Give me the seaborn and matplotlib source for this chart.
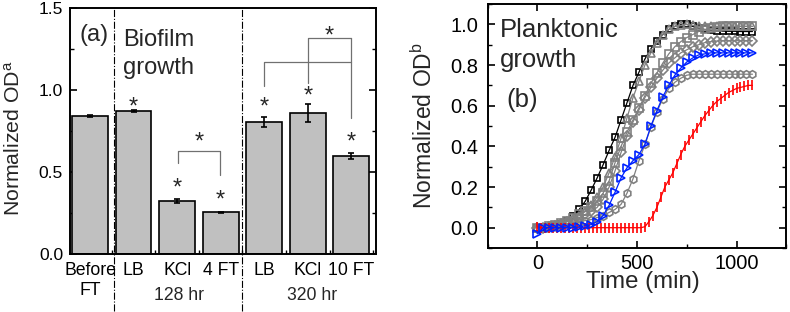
import matplotlib
matplotlib.use("Agg")
import matplotlib.pyplot as plt
import matplotlib.transforms as mtransforms
from matplotlib.ticker import MultipleLocator
import seaborn as sns

# ---------------- data: panel (a) biofilm growth ----------------
bar_keys = ["Before FT", "LB 128", "KCl 128", "4 FT", "LB 320", "KCl 320", "10 FT"]
bar_labels = ["Before\nFT", "LB", "KCl", "4 FT", "LB", "KCl", "10 FT"]
bar_od = [0.840, 0.874, 0.323, 0.254, 0.805, 0.858, 0.597]
bar_err = [0.006, 0.006, 0.015, 0.005, 0.032, 0.055, 0.020]
star_od = [None, 0.94, 0.447, 0.374, 0.94, 1.005, 0.726]
group_labels = ["128 hr", "320 hr"]

# ---------------- data: panel (b) planktonic growth ----------------
time_30 = [0, 30, 60, 90, 120, 150, 180, 210, 240, 270, 300, 330, 360, 390,
           420, 450, 480, 510, 540, 570, 600, 630, 660, 690, 720, 750, 780,
           810, 840, 870, 900, 930, 960, 990, 1020, 1050, 1080]
od_black = [0.0, 0.0, 0.005, 0.01, 0.02, 0.035, 0.06, 0.09, 0.13, 0.185, 0.245,
            0.31, 0.38, 0.445, 0.53, 0.615, 0.70, 0.765, 0.83, 0.88, 0.92, 0.95,
            0.975, 0.99, 1.0, 1.0, 0.99, 0.98, 0.975, 0.97, 0.968, 0.967, 0.966,
            0.966, 0.965, 0.965, 0.965]
od_triangle = [0.0, 0.0, 0.005, 0.01, 0.02, 0.03, 0.045, 0.06, 0.08, 0.11, 0.15,
               0.20, 0.27, 0.35, 0.44, 0.54, 0.64, 0.72, 0.80, 0.86, 0.91, 0.95,
               0.975, 0.99, 0.995, 1.0, 0.995, 0.99, 0.99, 0.99, 0.99, 0.99,
               0.99, 0.99, 0.99, 0.99, 0.99]
od_square = [0.0, 0.0, 0.01, 0.015, 0.025, 0.035, 0.05, 0.065, 0.08, 0.10, 0.13,
             0.17, 0.23, 0.32, 0.40, 0.47, 0.53, 0.59, 0.65, 0.71, 0.76, 0.81,
             0.855, 0.89, 0.915, 0.935, 0.95, 0.965, 0.975, 0.98, 0.985, 0.99,
             0.99, 0.99, 0.99, 0.99, 0.99]
od_diamond = [0.0, 0.0, 0.005, 0.01, 0.02, 0.03, 0.04, 0.05, 0.065, 0.08, 0.10,
              0.14, 0.20, 0.28, 0.37, 0.45, 0.52, 0.58, 0.64, 0.69, 0.735, 0.775,
              0.81, 0.835, 0.86, 0.875, 0.89, 0.90, 0.91, 0.915, 0.918, 0.92,
              0.92, 0.92, 0.92, 0.92, 0.92]
od_hexagon = [0.0, 0.0, 0.005, 0.01, 0.015, 0.02, 0.025, 0.03, 0.035, 0.04, 0.05,
              0.06, 0.075, 0.09, 0.115, 0.17, 0.24, 0.33, 0.41, 0.495, 0.57,
              0.635, 0.685, 0.715, 0.735, 0.75, 0.755, 0.755, 0.755, 0.755,
              0.755, 0.755, 0.755, 0.755, 0.755, 0.755, 0.755]
od_blue = [-0.03, 0.0, 0.0, 0.0, 0.0, 0.0, 0.0, 0.005, 0.01, 0.015, 0.03, 0.06,
           0.11, 0.175, 0.245, 0.295, 0.33, 0.36, 0.41, 0.50, 0.575, 0.645, 0.70,
           0.75, 0.785, 0.815, 0.835, 0.85, 0.855, 0.86, 0.86, 0.86, 0.86, 0.86,
           0.86, 0.86, 0.86]
time_20 = [0, 20, 40, 60, 80, 100, 120, 140, 160, 180, 200, 220, 240, 260, 280,
           300, 320, 340, 360, 380, 400, 420, 440, 460, 480, 500, 520, 540, 560,
           580, 600, 620, 640, 660, 680, 700, 720, 740, 760, 780, 800, 820, 840,
           860, 880, 900, 920, 940, 960, 980, 1000, 1020, 1040, 1060, 1080]
od_red = [0.005, 0.0, 0.0, 0.0, 0.0, 0.0, 0.0, 0.0, 0.0, 0.0, 0.0, 0.0, 0.0,
          0.0, 0.0, 0.0, 0.0, 0.0, 0.0, 0.0, 0.0, 0.0, 0.0, 0.0, 0.0, 0.0, 0.0,
          0.005, 0.03, 0.06, 0.10, 0.15, 0.20, 0.235, 0.27, 0.315, 0.36, 0.40,
          0.43, 0.46, 0.49, 0.52, 0.55, 0.575, 0.60, 0.62, 0.635, 0.65, 0.665,
          0.675, 0.685, 0.69, 0.695, 0.70, 0.70]

# ---------------- style ----------------
sns.set_theme(style="ticks")
plt.rcParams.update({
    "font.family": ["Liberation Sans", "DejaVu Sans"],
    "mathtext.fontset": "custom",
    "mathtext.rm": "Liberation Sans",
    "mathtext.it": "Liberation Sans:italic",
    "axes.linewidth": 1.4,
    "axes.edgecolor": "black",
    "xtick.color": "black",
    "ytick.color": "black",
    "xtick.major.width": 1.2,
    "ytick.major.width": 1.2,
    "xtick.minor.width": 1.0,
    "ytick.minor.width": 1.0,
})

GREY = "#808080"
BAR_GREY = "#c0c0c0"

fig = plt.figure(figsize=(7.9, 3.12), dpi=100)
axa = fig.add_axes([0.0886, 0.186, 0.387, 0.788])
axb = fig.add_axes([0.6173, 0.205, 0.378, 0.782])


def star(ax, x, y, fs=17):
    # place an asterisk so that its visual centre sits at (x, y)
    off = mtransforms.ScaledTranslation(0, -0.58 * fs / 72, fig.dpi_scale_trans)
    ax.text(x, y, "*", fontsize=fs, ha="center", va="baseline",
            transform=ax.transData + off)


# ---------------- panel (a) ----------------
sns.barplot(x=bar_keys, y=bar_od, order=bar_keys, color=BAR_GREY,
            saturation=1, edgecolor="black", linewidth=1.2, width=0.82, ax=axa)
xpos = list(range(len(bar_keys)))
axa.errorbar(xpos, bar_od, yerr=bar_err, fmt="none", ecolor="black",
             elinewidth=1.2, capsize=2.5, capthick=1.2, zorder=5)
for x, s in zip(xpos, star_od):
    if s is not None:
        star(axa, x, s)

# significance brackets
bk = dict(color="#707070", lw=0.9)
axa.plot([2.02, 2.02, 2.98, 2.98], [0.556, 0.63, 0.63, 0.48], **bk)
star(axa, 2.5, 0.726)
axa.plot([4.0, 4.0, 6.0], [1.025, 1.172, 1.172], **bk)
axa.plot([6.0, 6.0], [0.83, 1.318], **bk)
axa.plot([5.0, 5.0, 6.0], [1.044, 1.318, 1.318], **bk)
star(axa, 5.5, 1.375)

# group separators, running below the axis
for xv in [0.54, 3.5]:
    axa.axvline(xv, ymin=-0.23, ymax=1, color="black", lw=0.8,
                linestyle="-.", clip_on=False)

axa.set_xlim(-0.46, 6.56)
axa.set_ylim(0, 1.5)
axa.set_xticks(xpos)
axa.set_xticklabels(bar_labels, fontsize=12.7)
axa.xaxis.set_minor_locator(MultipleLocator(0.5))
axa.yaxis.set_major_locator(MultipleLocator(0.5))
axa.yaxis.set_minor_locator(MultipleLocator(0.25))
axa.tick_params(which="both", direction="in", left=True, right=True,
                top=False, bottom=True)
axa.tick_params(which="major", length=5)
axa.tick_params(which="minor", length=3)
axa.tick_params(axis="x", pad=6)
axa.tick_params(axis="y", labelsize=12.6, pad=5)
axa.set_xlabel("")
axa.set_ylabel(r"Normalized OD$^{\mathrm{a}}$", fontsize=15.3)
axa.yaxis.set_label_coords(-0.15, 0.47)

grp = mtransforms.blended_transform_factory(axa.transData, axa.transAxes)
for x, lab in zip([2.04, 5.09], group_labels):
    axa.text(x, -0.167, lab, transform=grp, ha="center", va="center",
             fontsize=12.7)

axa.text(0.03, 0.89, "(a)", transform=axa.transAxes, fontsize=17, va="center")
axa.text(0.173, 0.845, "Biofilm", transform=axa.transAxes, fontsize=17,
         va="baseline")
axa.text(0.173, 0.73, "growth", transform=axa.transAxes, fontsize=17,
         va="baseline")

# ---------------- panel (b) ----------------
series = [
    (time_30, od_black, "black", "s", 4.3),
    (time_30, od_hexagon, GREY, "h", 5.5),
    (time_30, od_diamond, GREY, "D", 4.6),
    (time_30, od_square, GREY, "s", 5.5),
    (time_30, od_triangle, GREY, "^", 5.8),
    (time_20, od_red, "#ff0000", "|", 7),
    (time_30, od_blue, "#0022ff", ">", 5.8),
]
for t, od, col, mk, ms in series:
    sns.lineplot(x=t, y=od, color=col, marker=mk, markersize=ms,
                 markerfacecolor="none", markeredgecolor=col,
                 markeredgewidth=1.2, linewidth=0.9, errorbar=None, ax=axb)

axb.set_xlim(-250, 1250)
axb.set_ylim(-0.1, 1.1)
axb.xaxis.set_major_locator(MultipleLocator(500))
axb.xaxis.set_minor_locator(MultipleLocator(250))
axb.yaxis.set_major_locator(MultipleLocator(0.2))
axb.yaxis.set_minor_locator(MultipleLocator(0.1))
axb.tick_params(which="both", direction="in", left=True, right=True,
                top=True, bottom=True)
axb.tick_params(which="major", length=5)
axb.tick_params(which="minor", length=3)
axb.tick_params(axis="both", labelsize=14.5)
axb.tick_params(axis="x", pad=4)
axb.tick_params(axis="y", pad=7)
axb.set_xlabel("Time (min)", fontsize=17.3)
axb.xaxis.set_label_coords(0.52, -0.095)
axb.set_ylabel(r"Normalized OD$^{\mathrm{b}}$", fontsize=16.5)
axb.yaxis.set_label_coords(-0.17, 0.5)

axb.text(0.041, 0.865, "Planktonic", transform=axb.transAxes, fontsize=18.5,
         va="baseline")
axb.text(0.041, 0.742, "growth", transform=axb.transAxes, fontsize=18.5,
         va="baseline")
axb.text(0.061, 0.579, "(b)", transform=axb.transAxes, fontsize=18.5,
         va="baseline")

fig.savefig("out.png", dpi=100)
